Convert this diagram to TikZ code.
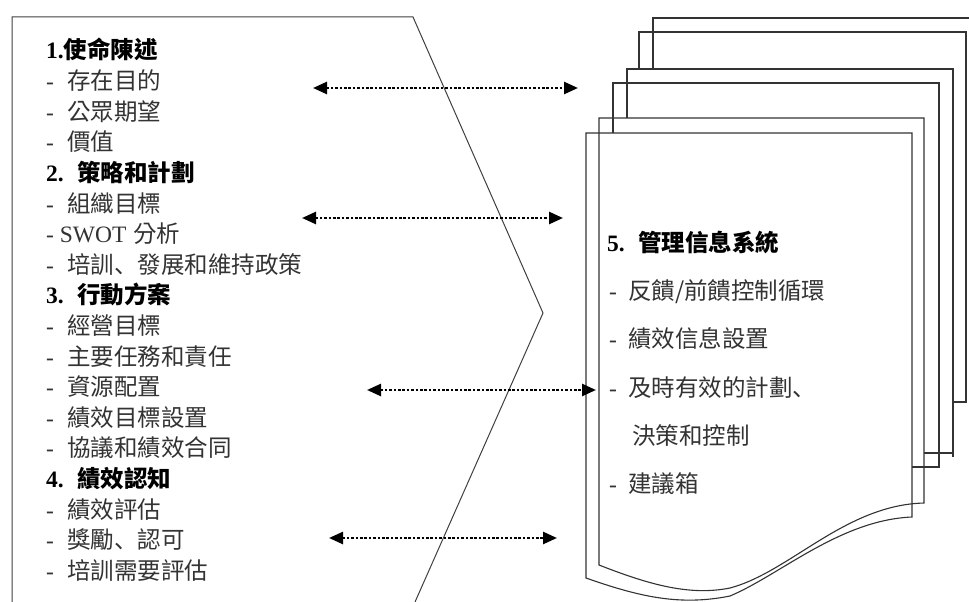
\documentclass[tikz,border=0pt]{standalone}
\usepackage{fontspec}
\setmainfont{Liberation Serif}
\newfontfamily\cjk{Noto Sans CJK TC}
\newfontfamily\cjkjp{Noto Sans CJK JP}
\newcommand\dunhao{{\cjkjp 、}}
\usetikzlibrary{arrows.meta}
\begin{document}
\begin{tikzpicture}[x=1pt,y=-1pt,
  txt/.style={anchor=base west,inner sep=0pt,font=\fontsize{23.5}{28}\selectfont,text=black!80},
  hd/.style={anchor=base west,inner sep=0pt,font=\fontsize{23.5}{28}\selectfont\bfseries,text=black},
  outl/.style={line width=1pt,draw=black!75},
  pg/.style={line width=1.1pt,draw=black!80},
  dotarrow/.style={line width=2.5pt,draw=black,dash pattern=on 2.6pt off 1.8pt,
    {Triangle[length=14pt,width=12pt]}-{Triangle[length=14pt,width=12pt]}}
]
\useasboundingbox (0,0) rectangle (969,602);
\fill[white] (0,0) rectangle (969,602);

% left chevron-shaped frame
\draw[outl] (12,602) -- (12,17) -- (413,17) -- (543,313) -- (415,602);

% stacked documents (back to front, visible parts)
\draw[pg] (653,69) -- (653,18) -- (969,18);
\draw[pg] (639,69) -- (639,32) -- (966,32) -- (966,402) -- (952,402);
\draw[pg] (627,118) -- (627,69) -- (953,69) -- (953,457);
\draw[pg] (924,453) -- (953,453);
\draw[pg] (613,133) -- (613,83) -- (939,83) -- (939,467) -- (912,467);
\draw[pg] (924,503) .. controls (845,505) and (790,572) .. (730,588)
  .. controls (690,596) and (650,585) .. (599,565) -- (599,118) -- (924,118) -- cycle;
\draw[pg] (912,517) .. controls (840,520) and (780,575) .. (730,596)
  .. controls (680,606) and (640,597) .. (586,578) -- (586,133) -- (912,133) -- cycle;

% left texts
\node[hd]  (l1)  at (46,59)    {1.{\cjk 使命陳述}};
\node[txt] (l2)  at (46,89.6)  {\makebox[21pt][l]{-}{\cjk 存在目的}};
\node[txt] (l3)  at (46,120.2) {\makebox[21pt][l]{-}{\cjk 公眾期望}};
\node[txt] (l4)  at (46,150.8) {\makebox[21pt][l]{-}{\cjk 價值}};
\node[hd]  (l5)  at (46,181.4) {\makebox[31pt][l]{2.}{\cjk 策略和計劃}};
\node[txt] (l6)  at (46,212)   {\makebox[21pt][l]{-}{\cjk 組織目標}};
\node[txt] (l7)  at (46,242.6) {- SWOT\hspace{7pt}{\cjk 分析}};
\node[txt] (l8)  at (46,273.2) {\makebox[21pt][l]{-}{\cjk 培訓\dunhao 發展和維持政策}};
\node[hd]  (l9)  at (46,303.8) {\makebox[31pt][l]{3.}{\cjk 行動方案}};
\node[txt] (l10) at (46,334.4) {\makebox[21pt][l]{-}{\cjk 經營目標}};
\node[txt] (l11) at (46,365)   {\makebox[21pt][l]{-}{\cjk 主要任務和責任}};
\node[txt] (l12) at (46,395.6) {\makebox[21pt][l]{-}{\cjk 資源配置}};
\node[txt] (l13) at (46,426.2) {\makebox[21pt][l]{-}{\cjk 績效目標設置}};
\node[txt] (l14) at (46,456.8) {\makebox[21pt][l]{-}{\cjk 協議和績效合同}};
\node[hd]  (l15) at (46,487.4) {\makebox[31pt][l]{4.}{\cjk 績效認知}};
\node[txt] (l16) at (46,518)   {\makebox[21pt][l]{-}{\cjk 績效評估}};
\node[txt] (l17) at (46,548.6) {\makebox[21pt][l]{-}{\cjk 獎勵\dunhao 認可}};
\node[txt] (l18) at (46,579.2) {\makebox[21pt][l]{-}{\cjk 培訓需要評估}};

% right texts
\node[hd]  (r1) at (607,251) {\makebox[31pt][l]{5.}{\cjk 管理信息系統}};
\node[txt] (r2) at (609,299) {\makebox[19pt][l]{-}{\cjk 反饋/前饋控制循環}};
\node[txt] (r3) at (609,347) {\makebox[19pt][l]{-}{\cjk 績效信息設置}};
\node[txt] (r4) at (609,396) {\makebox[19pt][l]{-}{\cjk 及時有效的計劃\dunhao}};
\node[txt] (r5) at (632,444) {\cjk 決策和控制};
\node[txt] (r6) at (609,492) {\makebox[19pt][l]{-}{\cjk 建議箱}};

% dotted double arrows
\coordinate (a1l) at (313,88);  \coordinate (a1r) at (578,88);
\coordinate (a2l) at (302,218); \coordinate (a2r) at (563,218);
\coordinate (a3l) at (367,390); \coordinate (a3r) at (596,390);
\coordinate (a4l) at (329,538); \coordinate (a4r) at (557,538);
\draw[dotarrow] (a1l) -- (a1r);
\draw[dotarrow] (a2l) -- (a2r);
\draw[dotarrow] (a3l) -- (a3r);
\draw[dotarrow] (a4l) -- (a4r);
\end{tikzpicture}
\end{document}
